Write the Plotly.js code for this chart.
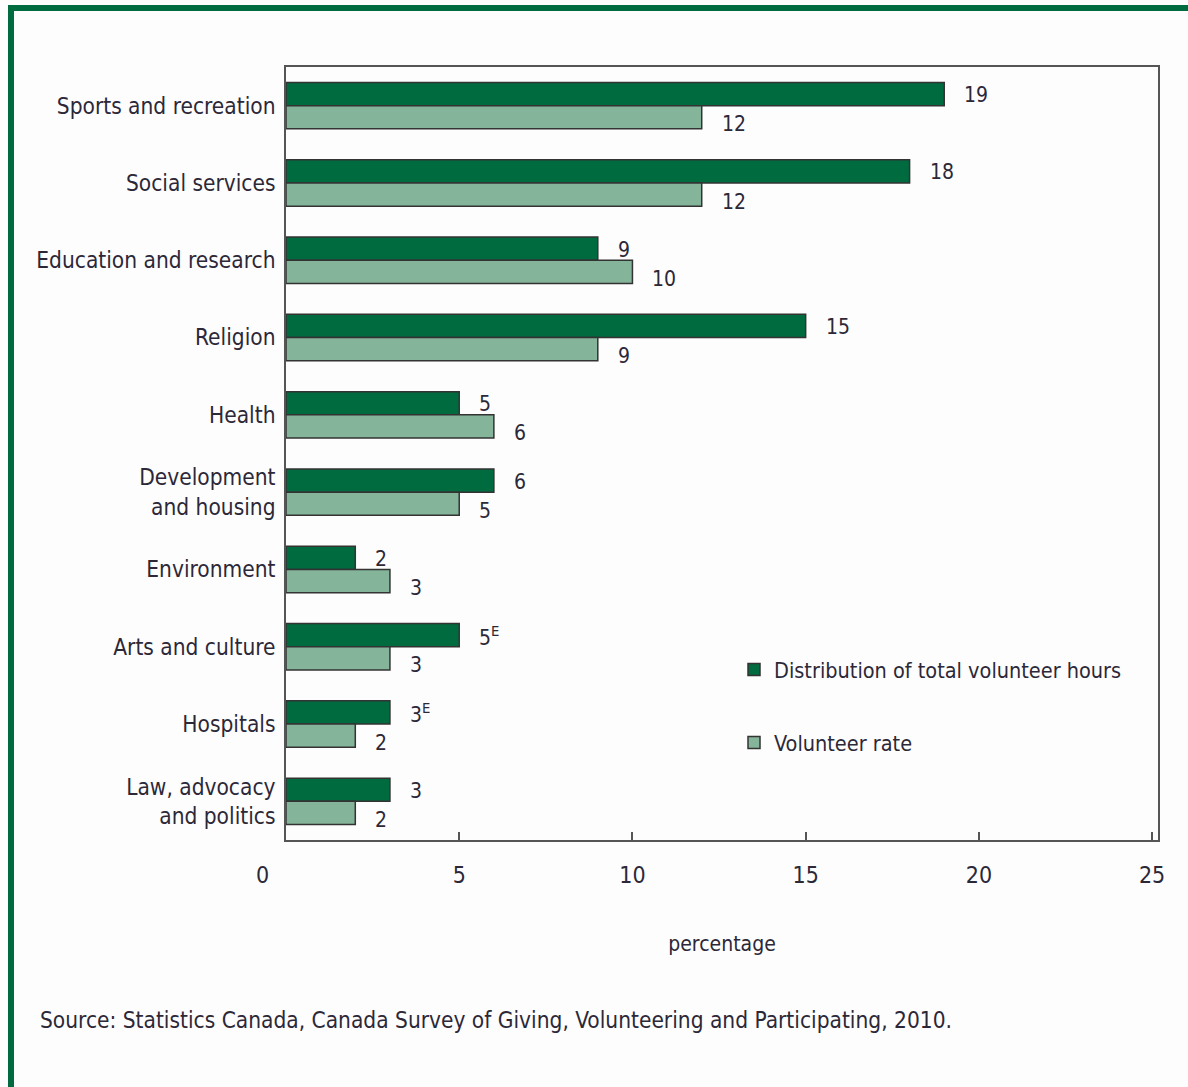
<!DOCTYPE html>
<html><head><meta charset="utf-8">
<script src="https://cdn.plot.ly/plotly-3.0.1.min.js"></script>
<style>html,body{margin:0;padding:0;background:#fdfdfd;}#chart{width:1188px;height:1087px;}</style>
</head><body><div id="chart"></div>
<script>
const categories = ["Sports and recreation","Social services","Education and research","Religion","Health","Development<br>and housing","Environment","Arts and culture","Hospitals","Law, advocacy<br>and politics"];
const hoursValues = [19,18,9,15,5,6,2,5,3,3];
const hoursLabels = ["19","18","9","15","5","6","2","5<sup>E</sup>","3<sup>E</sup>","3"];
const rateValues = [12,12,10,9,6,5,3,3,2,2];
const rateLabels = ["12","12","10","9","6","5","3","3","2","2"];
const xTicks = [5,10,15,20,25];
const seriesNames = ["Distribution of total volunteer hours","Volunteer rate"];
const sourceText = "Source: Statistics Canada, Canada Survey of Giving, Volunteering and Participating, 2010.";

const FONT = "'DejaVu Sans Condensed','Liberation Sans Narrow',sans-serif";
const TXT = "#2c2838";
const DARK = "#006b3f", LIGHT = "#84b59a";

// geometry helpers (plot area in pixels)
const L=286, R=1158, T=67, B=840, W=1188, H=1087;
const px = x => (x-L)/(R-L);
const py = y => (B-y)/(B-T);

const traces = [
  {type:'bar', orientation:'h', name:seriesNames[0], y:categories, x:hoursValues,
   marker:{color:DARK, line:{color:'#333', width:1.5}}, legendgroup:'a'},
  {type:'bar', orientation:'h', name:seriesNames[1], y:categories, x:rateValues,
   marker:{color:LIGHT, line:{color:'#333', width:1.5}}, legendgroup:'b'}
];

const annotations = [];
categories.forEach((c,i)=>{
  annotations.push({x:hoursValues[i], y:i-0.15, xref:'x', yref:'y', text:hoursLabels[i], showarrow:false,
    xanchor:'left', yanchor:'middle', xshift:18, yshift:-1, font:{family:FONT,size:21,color:TXT}});
  annotations.push({x:rateValues[i], y:i+0.15, xref:'x', yref:'y', text:rateLabels[i], showarrow:false,
    xanchor:'left', yanchor:'middle', xshift:18, yshift:-7, font:{family:FONT,size:21,color:TXT}});
});
annotations.push({x:0, y:0, xref:'x', yref:'paper', text:'0', showarrow:false, xanchor:'center', yanchor:'top',
  xshift:-24, yshift:-20, font:{family:FONT,size:23,color:TXT}});
annotations.push({x:px(38), y:py(1020), xref:'paper', yref:'paper', text:sourceText, showarrow:false,
  xanchor:'left', yanchor:'middle', font:{family:FONT,size:22.5,color:TXT}});

const shapes = [
  {type:'line', xref:'paper', yref:'paper', x0:px(8), x1:px(W+5), y0:py(8), y1:py(8), line:{color:DARK, width:6}},
  {type:'line', xref:'paper', yref:'paper', x0:px(11), x1:px(11), y0:py(5), y1:py(H+5), line:{color:DARK, width:6}}
];

const layout = {
  width:W, height:H,
  paper_bgcolor:'#fdfdfd', plot_bgcolor:'#fdfdfd',
  margin:{l:L, r:W-R, t:T, b:H-B, pad:0, autoexpand:false},
  font:{family:FONT, color:TXT, size:22},
  barmode:'group', bargap:0.4, bargroupgap:0,
  showlegend:true,
  legend:{x:px(734), y:py(649), xanchor:'left', yanchor:'top', bgcolor:'rgba(0,0,0,0)',
    font:{family:FONT,size:21.5,color:TXT}, tracegroupgap:42, traceorder:'grouped'},
  xaxis:{range:[0,25.17], tickvals:xTicks, ticktext:xTicks.map(String), ticks:'inside', ticklen:8, tickwidth:2, tickcolor:'#555',
    showgrid:false, zeroline:false, showline:true, linecolor:'#555', linewidth:2, mirror:true,
    tickfont:{family:FONT,size:23,color:TXT}, ticklabelstandoff:13,
    title:{text:'percentage', font:{family:FONT,size:21,color:TXT}, standoff:50}},
  yaxis:{autorange:'reversed', type:'category', ticks:'', showgrid:false, zeroline:false, showline:true,
    linecolor:'#555', linewidth:2, mirror:true, tickfont:{family:FONT,size:22.5,color:TXT}, ticklabelstandoff:4},
  annotations:annotations, shapes:shapes
};

Plotly.newPlot('chart', traces, layout, {displayModeBar:false, staticPlot:true});
</script></body></html>
